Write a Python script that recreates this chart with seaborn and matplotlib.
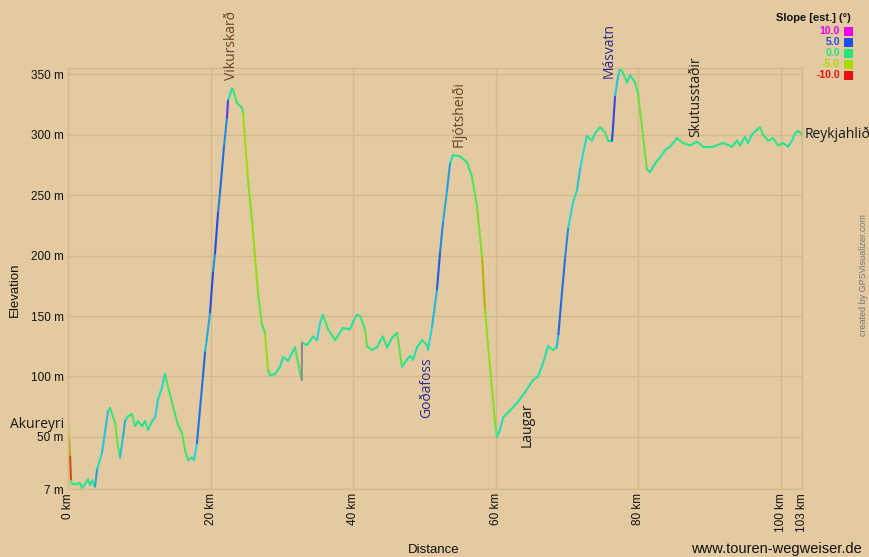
import numpy as np
import pandas as pd
import matplotlib
matplotlib.use("Agg")
import matplotlib.pyplot as plt
import seaborn as sns
from matplotlib.colors import LinearSegmentedColormap, Normalize

# ---- data ----
distance_km = [0.04, 0.14, 0.28, 0.42, 0.56, 1.12, 1.68, 1.96, 2.39, 2.81, 3.09, 3.37, 3.79,
               4.07, 4.77, 5.19, 5.61, 5.89, 6.60, 7.02, 7.30, 7.72, 8.00, 8.42, 8.98, 9.40,
               9.82, 10.38, 10.81, 11.23, 11.79, 12.21, 12.63, 13.19, 13.61, 14.03, 14.73,
               15.44, 16.00, 16.42, 16.84, 17.40, 17.68, 18.10, 18.52, 18.94, 19.23, 19.46,
               19.93, 20.35, 20.63, 21.05, 21.33, 21.61, 21.89, 22.03, 22.31, 22.45, 23.01,
               23.16, 23.72, 24.42, 24.56, 24.84, 25.26, 25.82, 26.24, 26.66, 27.22, 27.64,
               28.07, 28.35, 29.05, 29.75, 30.17, 30.87, 31.86, 32.28, 32.56, 32.80, 32.84,
               33.54, 34.38, 34.94, 35.36, 35.78, 36.49, 37.47, 38.59, 39.57, 40.00, 40.56,
               40.98, 41.68, 41.96, 42.66, 43.36, 43.78, 44.20, 44.77, 45.47, 46.17, 46.87,
               47.57, 47.99, 48.41, 48.98, 49.68, 50.38, 50.52, 51.08, 51.22, 51.78, 52.20,
               52.62, 53.19, 53.61, 54.03, 55.01, 55.99, 56.69, 57.40, 58.10, 58.52, 59.22,
               59.92, 60.20, 60.62, 61.05, 62.03, 63.01, 64.13, 65.25, 65.96, 66.66, 67.36,
               68.06, 68.57, 68.82, 69.18, 69.74, 70.17, 70.87, 71.43, 71.85, 72.27, 72.83,
               73.53, 73.95, 74.66, 75.36, 75.78, 76.34, 76.48, 76.76, 77.18, 77.46, 77.88,
               78.44, 78.87, 79.57, 79.99, 80.55, 80.97, 81.25, 81.67, 82.37, 83.07, 83.78,
               84.48, 85.46, 86.30, 87.29, 88.27, 89.11, 90.52, 91.92, 93.19, 93.89, 94.30,
               95.00, 95.42, 95.98, 96.69, 97.11, 97.53, 98.23, 98.93, 99.63, 100.34, 101.04,
               101.60, 102.02, 102.44, 103.0]
elevation_m = [58, 50, 35, 14, 11, 11, 12, 8, 11, 15, 10, 14, 9,
               23, 37, 54, 71, 74, 62, 42, 33, 50, 63, 67, 69, 59,
               63, 59, 63, 56, 63, 66, 81, 91, 102, 92, 75,
               60, 53, 39, 31, 33, 31, 45, 73, 100, 120, 130,
               153, 186, 202, 235, 252, 271, 290, 298, 314, 328, 338,
               337, 326, 322, 318, 296, 263, 229, 199, 169, 143, 136,
               105, 101, 102, 108, 116, 113, 124, 111, 103, 97, 128,
               126, 133, 130, 144, 151, 139, 130, 140, 139, 145, 151,
               150, 139, 125, 122, 124, 129, 133, 124, 132, 136, 108,
               114, 117, 114, 124, 130, 126, 122, 141, 147, 172, 202,
               227, 254, 276, 283, 282, 277, 265, 240, 199, 155, 108,
               62, 50, 56, 66, 72, 78, 87, 97, 100, 111, 125,
               122, 124, 135, 160, 197, 222, 244, 254, 271, 284, 299,
               295, 301, 306, 302, 295, 295, 306, 331, 348, 355, 351,
               343, 349, 343, 334, 306, 284, 271, 269, 276, 281, 287,
               290, 297, 293, 291, 294, 290, 290, 293, 290, 295, 291,
               298, 293, 300, 304, 306, 300, 295, 297, 291, 293, 290,
               295, 301, 303, 300]

x_ticks = [0, 20, 40, 60, 80, 100, 103]
x_tick_labels = ["0 km", "20 km", "40 km", "60 km", "80 km", "100 km", "103 km"]
y_ticks = [7, 50, 100, 150, 200, 250, 300, 350]
y_tick_labels = ["7 m", "50 m", "100 m", "150 m", "200 m", "250 m", "300 m", "350 m"]

legend_values = ["10.0", "5.0", "0.0", "-5.0", "-10.0"]
legend_colors = ["#ee00ee", "#1f4fe6", "#22e47a", "#a8dc00", "#e81010"]

places = [  # name, km, elevation anchor, rotation, colour
    ("Akureyri", -0.56, 60, 0, "#1a1a1a"),
    ("Vikurskarð", 23.0, 345, 90, "#6b4226"),
    ("Goðafoss", 50.3, 116, 90, "#2b2b8c"),
    ("Fljótsheiði", 54.9, 290, 90, "#6b4226"),
    ("Laugar", 64.4, 79, 90, "#1a1a1a"),
    ("Másvatn", 75.9, 347, 90, "#2b2b8c"),
    ("Skutusstaðir", 88.1, 298, 90, "#1a1a1a"),
    ("Reykjahlið", 103.4, 300, 0, "#1a1a1a"),
]

# ---- slope per segment (degrees) ----
x = np.array(distance_km)
z = np.array(elevation_m, dtype=float)
slope = np.degrees(np.arctan(np.diff(z) / (np.diff(x) * 1000.0)))

rows = []
for i in range(len(x) - 1):
    rows.append({"km": x[i], "elev": z[i], "seg": i, "slope": slope[i]})
    rows.append({"km": x[i + 1], "elev": z[i + 1], "seg": i, "slope": slope[i]})
df = pd.DataFrame(rows)

cmap = LinearSegmentedColormap.from_list(
    "slope", [(0.0, "#e81010"), (0.25, "#a8dc00"), (0.5, "#22e88a"),
              (0.6, "#22d6dc"), (0.72, "#1f4fe6"), (1.0, "#ee00ee")])
cmap.set_over("#8c8c8c")
cmap.set_under("#e81010")

bg = "#e4caa0"
grid_c = "#d5b98e"

sns.set_theme(style="white")
plt.rcParams["font.family"] = ["Liberation Sans", "DejaVu Sans"]

fig = plt.figure(figsize=(8.69, 5.57), dpi=100, facecolor=bg)
ax = fig.add_axes([68 / 869, 1 - 489 / 557, (802 - 68) / 869, (489 - 68) / 557])
ax.set_facecolor(bg)

sns.lineplot(data=df, x="km", y="elev", hue="slope", units="seg", estimator=None,
             palette=cmap, hue_norm=Normalize(-10, 10), sort=False, legend=False,
             linewidth=1.5, ax=ax)

ax.set_xlim(0, 103)
ax.set_ylim(7, 355)
ax.set_xticks(x_ticks)
ax.set_xticklabels(x_tick_labels, rotation=90, fontsize=8.5, color="#111111")
ax.set_yticks(y_ticks)
ax.set_yticklabels(y_tick_labels, fontsize=8.5, color="#111111")
ax.tick_params(length=0, pad=3)
ax.grid(True, color=grid_c, linewidth=1.0)
for s in ax.spines.values():
    s.set_color(grid_c)
    s.set_linewidth(1.0)
ax.set_xlabel("")
ax.set_ylabel("")

fig.text(15 / 869, 1 - 290 / 557, "Elevation", rotation=90, ha="center", va="center",
         fontsize=9.5, color="#111111")
fig.text(434 / 869, 1 - 550 / 557, "Distance", ha="center", va="center",
         fontsize=9.5, color="#111111")
fig.text(862 / 869, 1 - 549 / 557, "www.touren-wegweiser.de", ha="right", va="center",
         fontsize=10.5, color="#111111")
fig.text(863 / 869, 1 - 275 / 557, "created by GPSVisualizer.com", rotation=90,
         ha="center", va="center", fontsize=6.5, color="#777777")

# place labels
pf = ["Open Sans", "DejaVu Sans"]
for name, km, el, rot, col in places:
    if rot == 0:
        ha = "right" if km < 1 else "left"
        ax.text(km, el, name, ha=ha, va="center", fontsize=10, color=col,
                family=pf, clip_on=False)
    elif name in ("Goðafoss", "Laugar"):
        ax.text(km, el, name, ha="center", va="top", rotation=90, fontsize=10,
                color=col, family=pf, clip_on=False)
    else:
        ax.text(km, el, name, ha="center", va="bottom", rotation=90, fontsize=10,
                color=col, family=pf, clip_on=False)

# slope legend
fig.text(851 / 869, 1 - 18 / 557, "Slope [est.] (°)", ha="right", va="center",
         fontsize=8, fontweight="bold", color="#111111")
for i, (lab, c) in enumerate(zip(legend_values, legend_colors)):
    yy = 31 + i * 11
    fig.text(840 / 869, 1 - yy / 557, lab, ha="right", va="center", fontsize=7.5,
             fontweight="bold", color=c)
    fig.patches.append(plt.Rectangle((844 / 869, 1 - (yy + 4.5) / 557), 9 / 869, 9 / 557,
                                     transform=fig.transFigure, facecolor=c,
                                     edgecolor="none", figure=fig))

fig.savefig("out.png", dpi=100, facecolor=bg)
